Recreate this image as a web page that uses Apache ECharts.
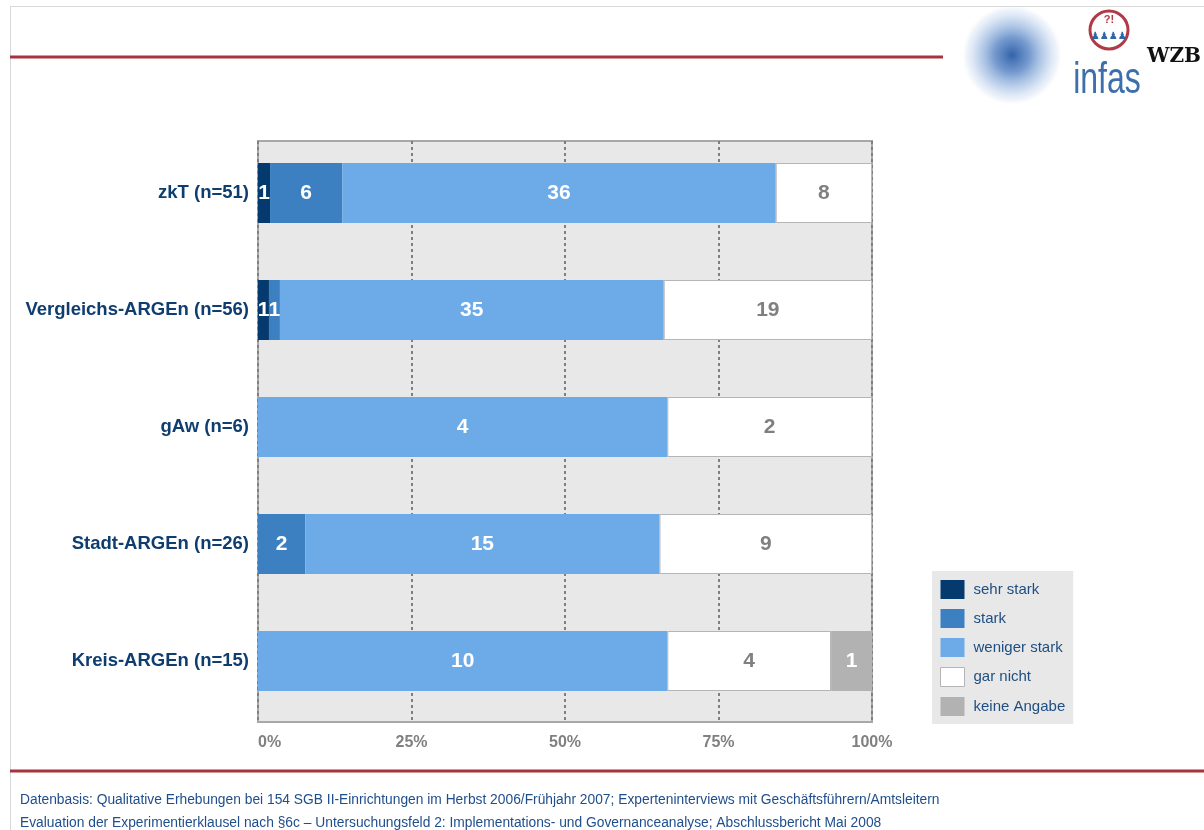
<!DOCTYPE html>
<html>
<head>
<meta charset="utf-8">
<script src="https://cdn.jsdelivr.net/npm/echarts@6/dist/echarts.min.js"></script>
<style>
  html, body { margin: 0; padding: 0; background: #ffffff; }
  #chart { width: 1204px; height: 830px; }
</style>
</head>
<body>
<div id="chart"></div>
<script>
// Einrichtungstypen (von oben nach unten)
const categories = ['zkT (n=51)', 'Vergleichs-ARGEn (n=56)', 'gAw (n=6)', 'Stadt-ARGEn (n=26)', 'Kreis-ARGEn (n=15)'];
const groupSizes = [51, 56, 6, 26, 15];

// Antwortkategorien und Anzahl der Nennungen je Einrichtungstyp
const answerNames = ['sehr stark', 'stark', 'weniger stark', 'gar nicht', 'keine Angabe'];
const sehrStark    = [1, 1, 0, 0, 0];
const stark        = [6, 1, 0, 2, 0];
const wenigerStark = [36, 35, 4, 15, 10];
const garNicht     = [8, 19, 2, 9, 4];
const keineAngabe  = [0, 0, 0, 0, 1];

const axisTicks = [0, 25, 50, 75, 100];

const footerLines = [
  'Datenbasis: Qualitative Erhebungen bei 154 SGB II-Einrichtungen im Herbst 2006/Frühjahr 2007; Experteninterviews mit Geschäftsführern/Amtsleitern',
  'Evaluation der Experimentierklausel nach §6c – Untersuchungsfeld 2: Implementations- und Governanceanalyse; Abschlussbericht Mai 2008'
];

const counts = [sehrStark, stark, wenigerStark, garNicht, keineAngabe];
const colors = ['#053a6e', '#3d80c2', '#6cabe8', '#ffffff', '#b2b2b2'];
const labelColors = ['#ffffff', '#ffffff', '#ffffff', '#808080', '#ffffff'];

const FONT = '"Liberation Sans", Arial, sans-serif';
const GRID_LEFT = 258, GRID_WIDTH = 614;

const series = answerNames.map((name, s) => ({
  name: name,
  type: 'bar',
  stack: 'total',
  xAxisIndex: 1,
  yAxisIndex: 1,
  barWidth: 60,
  z: 3,
  data: counts[s].map((c, i) => c / groupSizes[i] * 100),
  itemStyle: {
    color: colors[s],
    borderColor: s === 3 ? '#b5b5b5' : colors[s],
    borderWidth: s === 3 ? 1 : 0
  },
  emphasis: { disabled: true },
  label: {
    show: true,
    position: 'inside',
    color: labelColors[s],
    fontFamily: FONT,
    fontWeight: 'bold',
    fontSize: 21,
    formatter: p => (counts[s][p.dataIndex] ? String(counts[s][p.dataIndex]) : '')
  }
}));

const chart = echarts.init(document.getElementById('chart'), null, { renderer: 'canvas' });

chart.setOption({
  animation: false,
  backgroundColor: '#ffffff',
  grid: [
    // Hintergrundfläche mit Achse und Gitterlinien
    { left: GRID_LEFT, width: GRID_WIDTH, top: 141, height: 581, show: true,
      backgroundColor: '#e8e8e8', borderColor: '#a8a8a8', borderWidth: 2 },
    // Balken
    { left: GRID_LEFT, width: GRID_WIDTH, top: 134.5, height: 585 }
  ],
  xAxis: [
    { gridIndex: 0, type: 'value', min: 0, max: 100, interval: 25,
      axisLine: { show: false }, axisTick: { show: false },
      splitLine: { show: true, lineStyle: { color: '#7f7f7f', width: 2, type: [3, 3] } },
      axisLabel: {
        margin: 13, color: '#808080', fontFamily: FONT, fontWeight: 'bold', fontSize: 16,
        alignMinLabel: 'left',
        customValues: axisTicks,
        formatter: v => v + '%'
      }
    },
    { gridIndex: 1, type: 'value', min: 0, max: 100, show: false }
  ],
  yAxis: [
    { gridIndex: 0, type: 'category', data: categories, inverse: true, show: false },
    { gridIndex: 1, type: 'category', data: categories, inverse: true,
      axisLine: { show: false }, axisTick: { show: false },
      axisLabel: { margin: 9, color: '#0e3d70', fontFamily: FONT, fontWeight: 'bold', fontSize: 18.5 }
    }
  ],
  legend: {
    orient: 'vertical',
    left: 932, top: 571,
    padding: [9, 8, 8, 8],
    backgroundColor: '#e8e8e8',
    itemWidth: 24, itemHeight: 19, itemGap: 10,
    selectedMode: false,
    data: answerNames.map((n, s) => ({
      name: n,
      icon: 'rect',
      itemStyle: { color: colors[s], borderColor: s === 3 ? '#b5b5b5' : colors[s], borderWidth: s === 3 ? 1 : 0 }
    })),
    textStyle: { color: '#1f4e82', fontFamily: FONT, fontSize: 15, padding: [0, 0, 0, 4] }
  },
  series: series,
  graphic: [
    // Seitenrahmen
    { type: 'line', shape: { x1: 10, y1: 6.5, x2: 1204, y2: 6.5 }, style: { stroke: '#d9d9d9', lineWidth: 1 }, silent: true },
    { type: 'line', shape: { x1: 10.5, y1: 6, x2: 10.5, y2: 830 }, style: { stroke: '#d9d9d9', lineWidth: 1 }, silent: true },
    { type: 'line', shape: { x1: 10, y1: 57, x2: 943, y2: 57 }, style: { stroke: '#a8333f', lineWidth: 3 }, silent: true },
    { type: 'line', shape: { x1: 10, y1: 771, x2: 1204, y2: 771 }, style: { stroke: '#a8333f', lineWidth: 3 }, silent: true },
    // Logos
    { type: 'circle', shape: { cx: 1012, cy: 55, r: 50 }, silent: true,
      style: { fill: new echarts.graphic.RadialGradient(0.5, 0.5, 0.5, [
        { offset: 0, color: 'rgba(40,90,165,0.95)' },
        { offset: 0.35, color: 'rgba(70,120,190,0.75)' },
        { offset: 0.7, color: 'rgba(120,160,215,0.4)' },
        { offset: 0.9, color: 'rgba(170,195,230,0.2)' },
        { offset: 1, color: 'rgba(200,215,240,0)' }
      ]) } },
    { type: 'circle', shape: { cx: 1109, cy: 30, r: 19 }, silent: true,
      style: { fill: '#ffffff', stroke: '#b03a48', lineWidth: 3 } },
    { type: 'text', x: 1109, y: 20, silent: true,
      style: { text: '?!', fill: '#b03a48', font: 'bold 11px ' + FONT, align: 'center', verticalAlign: 'middle' } },
    { type: 'text', x: 1109, y: 36, silent: true,
      style: { text: '♟♟♟♟', fill: '#2f66a6', font: '10px "DejaVu Sans"', align: 'center', verticalAlign: 'middle' } },
    { type: 'text', x: 1107, y: 81, scaleY: 1.4, silent: true,
      style: { text: 'infas', fill: '#3c6fab', font: '32px "Liberation Sans Narrow", ' + FONT, align: 'center', verticalAlign: 'middle' } },
    { type: 'text', x: 1174, y: 57, silent: true,
      style: { text: 'WZB', fill: '#111111', font: 'bold 20px "DejaVu Serif"', align: 'center', verticalAlign: 'middle' } },
    // Quellenangaben
    { type: 'text', x: 20, y: 800, silent: true,
      style: { text: footerLines[0], fill: '#1f4e8c', font: '13.8px ' + FONT, verticalAlign: 'middle' } },
    { type: 'text', x: 20, y: 823, silent: true,
      style: { text: footerLines[1], fill: '#1f4e8c', font: '13.8px ' + FONT, verticalAlign: 'middle' } }
  ]
});
</script>
</body>
</html>
